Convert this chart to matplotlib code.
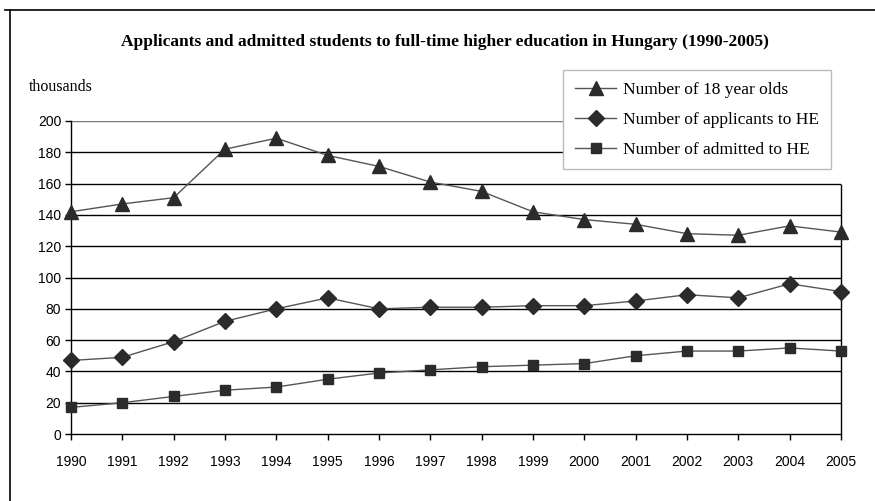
import matplotlib.pyplot as plt
from matplotlib.lines import Line2D

years = list(range(1990, 2006))
age18 = [142, 147, 151, 182, 189, 178, 171, 161, 155, 142, 137, 134, 128, 127, 133, 129]
applicants = [47, 49, 59, 72, 80, 87, 80, 81, 81, 82, 82, 85, 89, 87, 96, 91]
admitted = [17, 20, 24, 28, 30, 35, 39, 41, 43, 44, 45, 50, 53, 53, 55, 53]
yticks = list(range(0, 201, 20))

serif = 'Liberation Serif'
sans = 'Liberation Sans'

fig = plt.figure(figsize=(8.75, 5.01), dpi=100)
ax = fig.add_axes([0.0811, 0.1337, 0.8800, 0.6248])

# outer frame (top and left only visible)
fig.add_artist(Line2D([0.006, 1.0], [0.980, 0.980], color='black', lw=1.2))
fig.add_artist(Line2D([0.0115, 0.0115], [0.0, 0.980], color='black', lw=1.2))

# gridlines; the top two stop where the legend box begins
for y in yticks[1:]:
    if y > 160:
        ax.axhline(y, xmax=0.64, color='#777777' if y == 200 else 'black', lw=1.0, zorder=1)
    else:
        ax.axhline(y, color='black', lw=1.0, zorder=1)
ax.vlines(2005, 0, 160, color='black', lw=1.0, zorder=1, clip_on=False)

mk = dict(color='#555555', lw=1.0, markerfacecolor='#2b2b2b',
          markeredgecolor='#2b2b2b', clip_on=False, zorder=3)
ax.plot(years, age18, marker='^', markersize=10, label='Number of 18 year olds', **mk)
ax.plot(years, applicants, marker='D', markersize=8, label='Number of applicants to HE', **mk)
ax.plot(years, admitted, marker='s', markersize=7.5, label='Number of admitted to HE', **mk)

ax.set_xlim(1990, 2005)
ax.set_ylim(0, 200)
ax.set_xticks(years)
ax.set_yticks(yticks)
for s in ['top', 'right']:
    ax.spines[s].set_visible(False)
ax.spines['left'].set_linewidth(1.0)
ax.spines['bottom'].set_linewidth(1.0)
ax.tick_params(direction='out', length=4, width=1, labelsize=10)
ax.tick_params(axis='x', pad=11)
ax.tick_params(axis='y', pad=3)
for lab in ax.get_xticklabels() + ax.get_yticklabels():
    lab.set_fontfamily(sans)

fig.text(0.508, 0.916, 'Applicants and admitted students to full-time higher education in Hungary (1990-2005)',
         ha='center', va='center', fontsize=12.5, fontweight='bold', family=serif)
fig.text(0.033, 0.826, 'thousands', ha='left', va='center', fontsize=11.5, family=serif)

leg = fig.legend(loc='upper left', bbox_to_anchor=(0.6434, 0.8603), borderaxespad=0,
                 fancybox=False, framealpha=1, edgecolor='#bbbbbb',
                 prop={'family': serif, 'size': 12.5},
                 handlelength=2.4, labelspacing=0.79, borderpad=0.68, handletextpad=0.4)
leg.get_frame().set_linewidth(1.0)

fig.savefig('out.png', dpi=100)
